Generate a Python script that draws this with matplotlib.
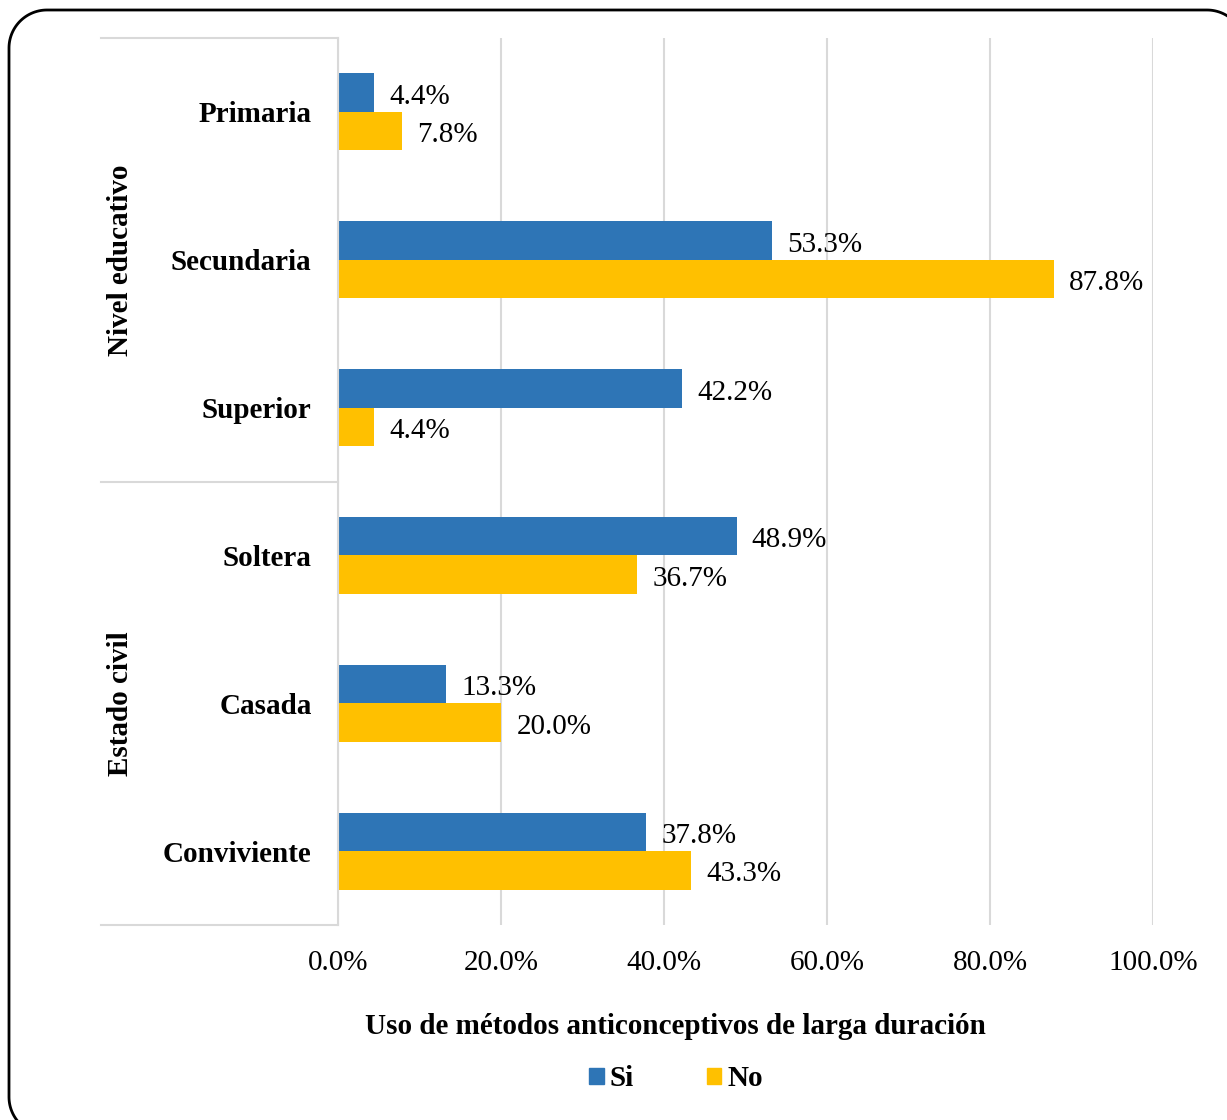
import matplotlib.pyplot as plt
import matplotlib.transforms as mtransforms
import numpy as np
from matplotlib.lines import Line2D
from matplotlib.patches import Patch

categories = ["Primaria", "Secundaria", "Superior", "Soltera", "Casada", "Conviviente"]
groups = ["Nivel educativo", "Estado civil"]
group_sizes = [3, 3]
si_values = [4.4, 53.3, 42.2, 48.9, 13.3, 37.8]
no_values = [7.8, 87.8, 4.4, 36.7, 20.0, 43.3]
series = ["Si", "No"]
xticks = [0, 20, 40, 60, 80, 100]

BLUE = "#2E75B6"
YELLOW = "#FFC000"
GRID = "#D9D9D9"
FS = 21
W, H = 1227, 1120

plt.rcParams["font.family"] = ["Liberation Serif", "DejaVu Serif"]


def rounded_outline(x0, y0, x1, y1, r, n=30):
    """Polyline of a rounded rectangle in pixel coords (y up)."""
    xs, ys = [], []
    corners = [(x1 - r, y1 - r, 0), (x0 + r, y1 - r, 90),
               (x0 + r, y0 + r, 180), (x1 - r, y0 + r, 270)]
    for cx, cy, a0 in corners:
        t = np.radians(np.linspace(a0, a0 + 90, n))
        xs.extend(cx + r * np.cos(t))
        ys.extend(cy + r * np.sin(t))
    xs.append(xs[0])
    ys.append(ys[0])
    return xs, ys


fig = plt.figure(figsize=(W / 100, H / 100), dpi=100)

# rounded frame around the whole chart, running off the right/bottom edge
fx, fy = rounded_outline(9, H - 1135, 1245, H - 10, 38)
fig.add_artist(Line2D(fx, fy, color="black", linewidth=2,
                      transform=mtransforms.IdentityTransform()))

ax = fig.add_axes([338 / W, 1 - 925 / H, (1153 - 338) / W, (925 - 38) / H])

y = np.arange(len(categories))
h = 0.26
ax.barh(y - h / 2, si_values, height=h, color=BLUE, label=series[0])
ax.barh(y + h / 2, no_values, height=h, color=YELLOW, label=series[1])

for yi, v in zip(y - h / 2, si_values):
    ax.annotate(f"{v:.1f}%", (v, yi), xytext=(11, -3), textcoords="offset points",
                ha="left", va="center", fontsize=FS)
for yi, v in zip(y + h / 2, no_values):
    ax.annotate(f"{v:.1f}%", (v, yi), xytext=(11, -3), textcoords="offset points",
                ha="left", va="center", fontsize=FS)

ax.set_xlim(0, 100)
ax.set_ylim(len(categories) - 0.5, -0.5)
ax.set_xticks(xticks)
ax.set_xticklabels([f"{t:.1f}%" for t in xticks], fontsize=FS)
ax.set_yticks(y)
ax.set_yticklabels(categories, fontsize=FS, fontweight="bold")
ax.tick_params(axis="both", length=0)
ax.tick_params(axis="x", pad=18)
ax.tick_params(axis="y", pad=19)

ax.grid(axis="x", color=GRID, linewidth=1.5)
ax.set_axisbelow(True)
for s in ["top", "right", "bottom"]:
    ax.spines[s].set_visible(False)
ax.spines["left"].set_color(GRID)
ax.spines["left"].set_linewidth(1.5)

# group separators and group labels
trans = mtransforms.blended_transform_factory(ax.transAxes, ax.transData)
x_left = (101 - 338) / (1153 - 338)
bounds = np.concatenate([[0], np.cumsum(group_sizes)]) - 0.5
for b in bounds:
    ax.plot([x_left, 0], [b, b], color=GRID, linewidth=1.5, transform=trans, clip_on=False)
x_grp = (120 - 338) / (1153 - 338)
for g, lo, hi in zip(groups, bounds[:-1], bounds[1:]):
    ax.text(x_grp, (lo + hi) / 2, g, rotation=90, ha="center", va="center",
            fontsize=FS, fontweight="bold", transform=trans)

fig.text(675 / W, 1 - 1027 / H, "Uso de métodos anticonceptivos de larga duración",
         ha="center", va="center", fontsize=FS, fontweight="bold")

handles = [Patch(color=BLUE, label=series[0]), Patch(color=YELLOW, label=series[1])]
fig.legend(handles=handles, loc="center", bbox_to_anchor=(676 / W, 1 - 1079 / H),
           ncol=2, frameon=False, handlelength=0.5, handleheight=0.5,
           handletextpad=0.2, columnspacing=2.5,
           prop={"size": FS, "weight": "bold"})

fig.savefig("out.png", dpi=100)
